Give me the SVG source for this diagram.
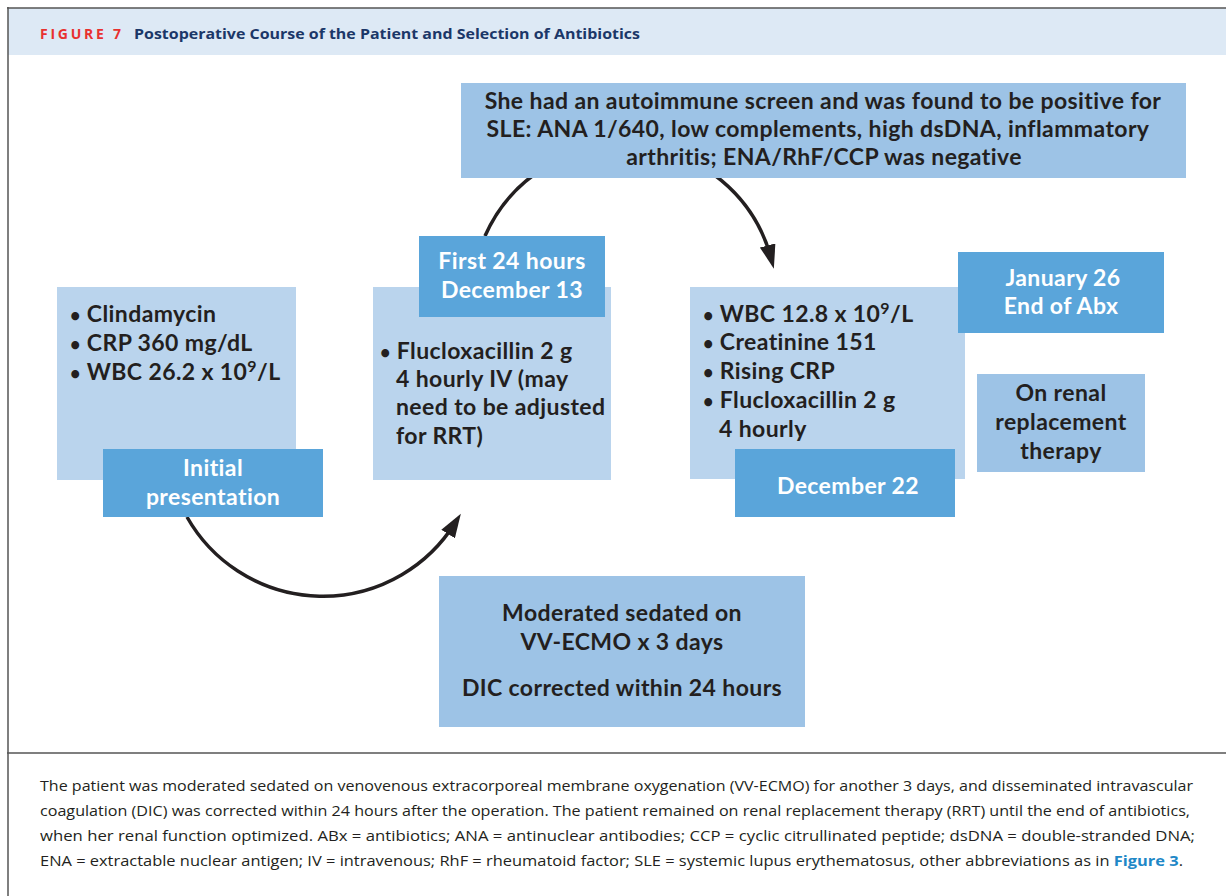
<svg xmlns="http://www.w3.org/2000/svg" width="1226" height="896" viewBox="0 0 1226 896">
<defs>
<style>
.bl{fill:#bad4ed}
.dk{fill:#5aa5da}
.md{fill:#9dc3e6}
.t{font-family:Lato,"Open Sans","Noto Sans",sans-serif;font-weight:700;font-size:23px;letter-spacing:0.4px;fill:#231f20}
.w{fill:#ffffff}
.c{text-anchor:middle}
.b{font-size:18px}
.cap{font-family:"Open Sans","Noto Sans",sans-serif;font-size:14.5px;fill:#231f20}
.conn{fill:none;stroke:#231f20;stroke-width:3.5}
</style>
<marker id="ah" markerUnits="userSpaceOnUse" viewBox="0 0 24 16" markerWidth="24" markerHeight="16" refX="13" refY="8" orient="auto">
<path d="M0,0 L24,8 L0,16 Z" fill="#231f20"/>
</marker>
</defs>
<rect x="0" y="0" width="1226" height="896" fill="#ffffff"/>
<g id="frame">
<rect x="8" y="8" width="1218" height="47" fill="#dde9f5"/>
<line x1="7" y1="8" x2="1226" y2="8" stroke="#555" stroke-width="1.5"/>
<line x1="8" y1="7" x2="8" y2="896" stroke="#555" stroke-width="1.5"/>
<line x1="7" y1="753" x2="1226" y2="753" stroke="#555" stroke-width="1.5"/>
<text x="40" y="39" font-family="'Open Sans','Noto Sans',sans-serif" font-weight="700" font-size="14" fill="#e8312f" textLength="81" lengthAdjust="spacing">FIGURE 7</text>
<text x="134" y="39" font-family="'Open Sans','Noto Sans',sans-serif" font-weight="700" font-size="15" fill="#1b3768" textLength="506" lengthAdjust="spacingAndGlyphs">Postoperative Course of the Patient and Selection of Antibiotics</text>
</g>
<g id="connectors">
<path class="conn" d="M187,517 A156,156 0 0 0 455,523" marker-end="url(#ah)"/>
<path class="conn" d="M485,236 A152,152 0 0 1 771,258" marker-end="url(#ah)"/>
</g>
<g id="n-initial-info">
<rect class="bl" x="57" y="287" width="239" height="193"/>
<text class="t" x="70" y="322"><tspan class="b">•</tspan> Clindamycin</text>
<text class="t" x="70" y="351"><tspan class="b">•</tspan> CRP 360 mg/dL</text>
<text class="t" x="70" y="380"><tspan class="b">•</tspan> WBC 26.2 x 10<tspan font-size="16" dy="-8">9</tspan><tspan dy="8">/L</tspan></text>
</g>
<g id="n-initial">
<rect class="dk" x="103" y="449" width="220" height="68"/>
<text class="t w c" x="213" y="476">Initial</text>
<text class="t w c" x="213" y="505">presentation</text>
</g>
<g id="n-first-info">
<rect class="bl" x="373" y="287" width="238" height="193"/>
<text class="t" x="380" y="359"><tspan class="b">•</tspan> Flucloxacillin 2 g</text>
<text class="t" x="396" y="387">4 hourly IV (may</text>
<text class="t" x="396" y="415">need to be adjusted</text>
<text class="t" x="396" y="444">for RRT)</text>
</g>
<g id="n-first">
<rect class="dk" x="419" y="236" width="186" height="81"/>
<text class="t w c" x="512" y="269">First 24 hours</text>
<text class="t w c" x="512" y="298">December 13</text>
</g>
<g id="n-dec22-info">
<rect class="bl" x="690" y="287" width="275" height="192"/>
<text class="t" x="703" y="322"><tspan class="b">•</tspan> WBC 12.8 x 10<tspan font-size="16" dy="-8">9</tspan><tspan dy="8">/L</tspan></text>
<text class="t" x="703" y="350"><tspan class="b">•</tspan> Creatinine 151</text>
<text class="t" x="703" y="379"><tspan class="b">•</tspan> Rising CRP</text>
<text class="t" x="703" y="408"><tspan class="b">•</tspan> Flucloxacillin 2 g</text>
<text class="t" x="719" y="437">4 hourly</text>
</g>
<g id="n-dec22">
<rect class="dk" x="735" y="449" width="220" height="68"/>
<text class="t w c" x="848" y="494">December 22</text>
</g>
<g id="n-jan26">
<rect class="dk" x="958" y="252" width="206" height="81"/>
<text class="t w c" x="1063" y="286">January 26</text>
<text class="t w c" x="1061" y="314">End of Abx</text>
</g>
<g id="n-renal">
<rect class="md" x="977" y="374" width="168" height="98"/>
<text class="t c" x="1061" y="401">On renal</text>
<text class="t c" x="1061" y="430">replacement</text>
<text class="t c" x="1061" y="459">therapy</text>
</g>
<g id="n-sle">
<rect class="md" x="461" y="83" width="725" height="95"/>
<text class="t c" x="823" y="109">She had an autoimmune screen and was found to be positive for</text>
<text class="t c" x="818" y="137">SLE: ANA 1/640, low complements, high dsDNA, inflammatory</text>
<text class="t c" x="824" y="165">arthritis; ENA/RhF/CCP was negative</text>
</g>
<g id="n-ecmo">
<rect class="md" x="439" y="576" width="366" height="151"/>
<text class="t c" x="622" y="621">Moderated sedated on</text>
<text class="t c" x="622" y="650">VV-ECMO x 3 days</text>
<text class="t c" x="622" y="696">DIC corrected within 24 hours</text>
</g>
<g id="caption">
<text class="cap" x="40" y="791" textLength="1153" lengthAdjust="spacingAndGlyphs">The patient was moderated sedated on venovenous extracorporeal membrane oxygenation (VV-ECMO) for another 3 days, and disseminated intravascular</text>
<text class="cap" x="40" y="816" textLength="1150" lengthAdjust="spacingAndGlyphs">coagulation (DIC) was corrected within 24 hours after the operation. The patient remained on renal replacement therapy (RRT) until the end of antibiotics,</text>
<text class="cap" x="40" y="841" textLength="1155" lengthAdjust="spacingAndGlyphs">when her renal function optimized. ABx = antibiotics; ANA = antinuclear antibodies; CCP = cyclic citrullinated peptide; dsDNA = double-stranded DNA;</text>
<text class="cap" x="40" y="866" textLength="1143" lengthAdjust="spacingAndGlyphs">ENA = extractable nuclear antigen; IV = intravenous; RhF = rheumatoid factor; SLE = systemic lupus erythematosus, other abbreviations as in <tspan fill="#1e88c7" font-weight="700">Figure 3</tspan>.</text>
</g>
</svg>
